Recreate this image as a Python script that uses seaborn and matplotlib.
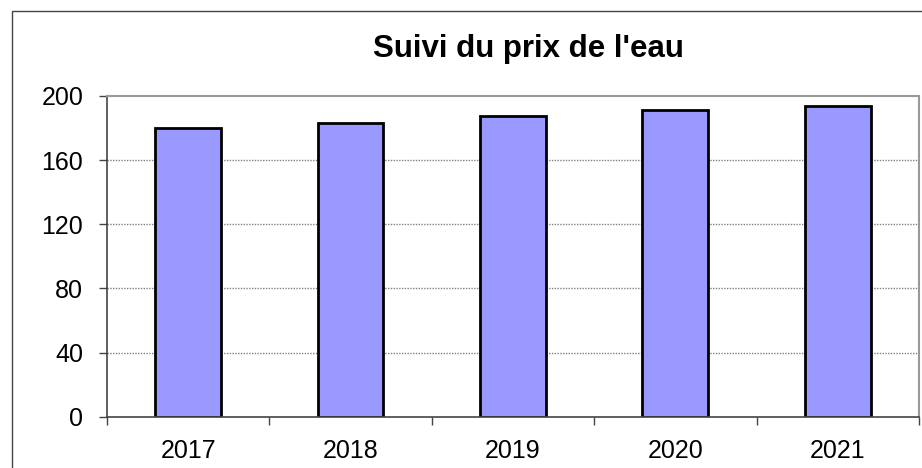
import matplotlib
matplotlib.use("Agg")
import matplotlib.pyplot as plt
import seaborn as sns
import pandas as pd
from matplotlib.patches import Rectangle

years = ["2017", "2018", "2019", "2020", "2021"]
prices = [180.3, 183.0, 187.8, 191.3, 193.8]
yticks = [0, 40, 80, 120, 160, 200]
title = "Suivi du prix de l'eau"

sns.set_theme(style="white")
plt.rcParams['font.family'] = ['Liberation Sans', 'DejaVu Sans']

df = pd.DataFrame({"year": years, "price": prices})

fig = plt.figure(figsize=(9.22, 4.68), dpi=100)
ax = fig.add_axes([0.116, 0.1096, 0.9967 - 0.116, 0.795 - 0.1096])

sns.barplot(data=df, x="year", y="price", color="#9999FF", width=0.405,
            edgecolor="black", linewidth=2.0, saturation=1, ax=ax)

ax.set_ylim(0, 200)
ax.set_xlim(-0.5, 4.5)
ax.set_yticks(yticks)
ax.set_yticklabels([str(v) for v in yticks])
ax.set_xlabel("")
ax.set_ylabel("")

for v in yticks[1:-1]:
    ax.axhline(v, color="#808080", linestyle=(0, (1, 1)), linewidth=1.0, zorder=0)

ax.set_xticks(range(len(years)))
ax.set_xticks([i - 0.5 for i in range(len(years) + 1)], minor=True)
ax.tick_params(axis="x", which="major", length=0, labelsize=18, pad=16, colors="black")
ax.tick_params(axis="x", which="minor", length=6, width=1, direction="out",
               color="#444444", bottom=True)
ax.tick_params(axis="y", which="major", length=6, width=1, direction="out",
               color="#444444", labelsize=18, pad=11, left=True, labelcolor="black")

for side in ["left", "bottom"]:
    ax.spines[side].set_color("#444444")
    ax.spines[side].set_linewidth(1.2)
for side in ["top", "right"]:
    ax.spines[side].set_color("#999999")
    ax.spines[side].set_linewidth(1.5)

fig.text(528 / 922, 1 - 57 / 468, title, ha="center", va="baseline",
         fontsize=22.5, fontweight="bold", color="black")

fig.patches.append(Rectangle((12 / 922, -0.1), 1.2, 1 - 11 / 468 + 0.1,
                             transform=fig.transFigure, fill=False,
                             edgecolor="#444444", linewidth=1.0))

fig.savefig("out.png", dpi=100)
